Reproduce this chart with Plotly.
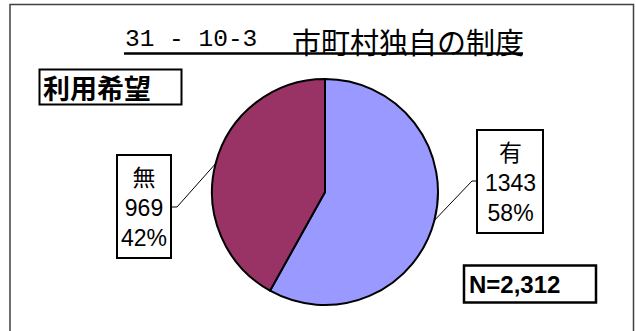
import math
import plotly.graph_objects as go

# data
labels = ["有", "無"]
counts = [1343, 969]
colors = ["#9999FF", "#993366"]
title_number = "31 - 10-3"
title_text = "市町村独自の制度"
subtitle_text = "利用希望"
total = sum(counts)

W, H = 636, 331
# pie geometry in pixels
cx, cy, r = 325, 192, 113

fig = go.Figure()

fig.add_trace(go.Pie(
    labels=labels,
    values=counts,
    sort=False,
    direction="clockwise",
    rotation=0,
    textinfo="none",
    hoverinfo="label+value+percent",
    marker=dict(colors=colors, line=dict(color="black", width=2)),
    domain=dict(x=[(cx - r) / W, (cx + r) / W], y=[(H - cy - r) / H, (H - cy + r) / H]),
    showlegend=False,
))

shapes = []
annotations = []

# outer frame
shapes.append(dict(type="rect", xref="x", yref="y", x0=10, x1=633.5, y0=4.5, y1=340,
                   line=dict(color="#404040", width=1.5)))

# title (monospace number part + CJK part) + underline
annotations.append(dict(x=123, y=39.5, xref="x", yref="y", text=title_number, showarrow=False,
                        font=dict(family="Liberation Mono", size=24.5, color="black"),
                        xanchor="left", yanchor="middle"))
annotations.append(dict(x=290, y=40.5, xref="x", yref="y", text=title_text, showarrow=False,
                        font=dict(family="Noto Sans CJK JP", size=29, color="black"),
                        xanchor="left", yanchor="middle"))
shapes.append(dict(type="line", xref="x", yref="y", x0=124, x1=523, y0=53.5, y1=53.5,
                   line=dict(color="black", width=2.5)))

# 利用希望 box
shapes.append(dict(type="rect", xref="x", yref="y", x0=39.5, x1=181.5, y0=69.5, y1=104.5,
                   line=dict(color="black", width=2)))
annotations.append(dict(x=41, y=87, xref="x", yref="y", text="<b>" + subtitle_text + "</b>",
                        showarrow=False, font=dict(family="Noto Sans CJK JP", size=27, color="black"),
                        xanchor="left", yanchor="middle"))

# data label boxes: (box x0, x1, y0, y1, elbow point)
boxes = [
    dict(x0=477, x1=543, y0=130, y1=233, elbow=(472, 181), end=477),
    dict(x0=117, x1=171, y0=155, y1=258, elbow=(177, 207), end=171),
]

cum = 0
for lab, val, b in zip(labels, counts, boxes):
    pct = val / total
    mid = (cum + pct / 2) * 2 * math.pi
    cum += pct
    ex = cx + r * math.sin(mid)
    ey = cy - r * math.cos(mid)
    shapes.append(dict(type="path", xref="x", yref="y",
                       path=f"M {ex:.1f},{ey:.1f} L {b['elbow'][0]},{b['elbow'][1]} L {b['end']},{b['elbow'][1]}",
                       line=dict(color="black", width=1)))
    shapes.append(dict(type="rect", xref="x", yref="y", x0=b["x0"], x1=b["x1"], y0=b["y0"], y1=b["y1"],
                       line=dict(color="black", width=2), fillcolor="white"))
    annotations.append(dict(x=(b["x0"] + b["x1"]) / 2, y=(b["y0"] + b["y1"]) / 2 + 1, xref="x", yref="y",
                            text=f"{lab}<br>{val}<br>{round(pct * 100)}%", showarrow=False,
                            font=dict(family="Liberation Sans, Noto Sans CJK JP", size=23, color="black"),
                            xanchor="center", yanchor="middle", align="center"))

# N box
shapes.append(dict(type="rect", xref="x", yref="y", x0=464, x1=596, y0=265.5, y1=302.5,
                   line=dict(color="black", width=2.5)))
annotations.append(dict(x=467, y=284, xref="x", yref="y", text=f"<b>N={total:,}</b>", showarrow=False,
                        font=dict(family="Liberation Sans", size=24, color="black"),
                        xanchor="left", yanchor="middle"))

fig.update_layout(
    width=W, height=H,
    margin=dict(l=0, r=0, t=0, b=0),
    paper_bgcolor="white", plot_bgcolor="rgba(0,0,0,0)",
    xaxis=dict(range=[0, W], visible=False, fixedrange=True),
    yaxis=dict(range=[H, 0], visible=False, fixedrange=True),
    shapes=shapes,
    annotations=annotations,
)

# drop the default body margin so the figure sits at the window's corner
fig.write_html("out.html", config={"displayModeBar": False},
               post_script="document.body.style.margin='0';")
